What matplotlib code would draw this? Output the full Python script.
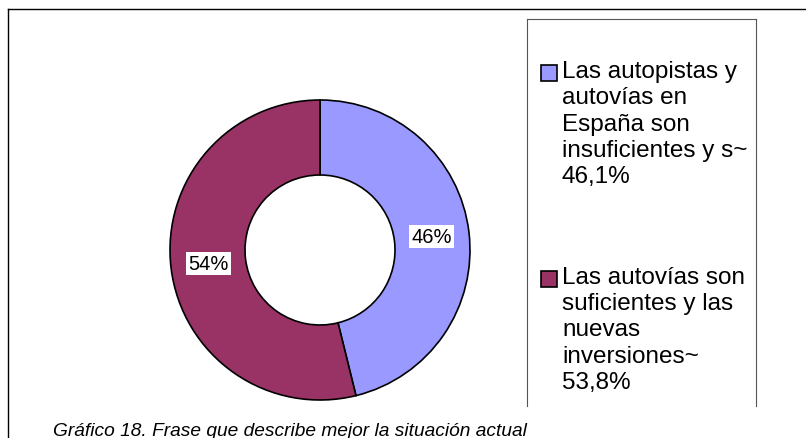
import matplotlib
matplotlib.use("Agg")
import matplotlib.pyplot as plt
from matplotlib.patches import Rectangle
from matplotlib.lines import Line2D

plt.rcParams['font.family'] = ['Liberation Sans', 'DejaVu Sans']

# datos
labels = ["Las autopistas y\nautovías en\nEspaña son\ninsuficientes y s~",
          "Las autovías son\nsuficientes y las\nnuevas\ninversiones~"]
values = [46.1, 53.8]
colors = ["#9999FF", "#993366"]
caption = "Gráfico 18. Frase que describe mejor la situación actual"

W, H = 806, 439
fig = plt.figure(figsize=(W / 100, H / 100), dpi=100)

def px(x, y):
    # pixel (desde arriba-izquierda) -> fracción de figura
    return x / W, 1 - y / H

# marco exterior (solo arriba e izquierda visibles)
fig.add_artist(Line2D([8 / W, 1], [1 - 10 / H] * 2, color="black", lw=1))
fig.add_artist(Line2D([8 / W] * 2, [0, 1 - 10 / H], color="black", lw=1))

# donut
cx, cy, r = 320, 251, 150
pad = 1.05
ax = fig.add_axes([(cx - r * pad) / W, 1 - (cy + r * pad) / H,
                   2 * r * pad / W, 2 * r * pad / H])
wedges, _, autotexts = ax.pie(values, colors=colors, startangle=90, counterclock=False,
                              radius=1, autopct='%.0f%%', pctdistance=0.75,
                              wedgeprops=dict(width=0.5, edgecolor="black", linewidth=1.2),
                              textprops=dict(fontsize=14.5, color="black"))
for t in autotexts:
    t.set_bbox(dict(facecolor="white", edgecolor="none", pad=1.5))
ax.set_xlim(-pad, pad)
ax.set_ylim(-pad, pad)
ax.set_aspect("equal")
ax.axis("off")

# leyenda (caja sin borde inferior)
lx0, lx1, ly0, ly1 = 527, 756, 20, 407
fig.add_artist(Line2D([lx0 / W, lx1 / W], [1 - ly0 / H] * 2, color="#555555", lw=0.8))
fig.add_artist(Line2D([lx0 / W] * 2, [1 - ly0 / H, 1 - ly1 / H], color="#555555", lw=0.8))
fig.add_artist(Line2D([lx1 / W] * 2, [1 - ly0 / H, 1 - ly1 / H], color="#555555", lw=0.8))

entry_tops = [61, 267]
for lab, val, col, top in zip(labels, values, colors, entry_tops):
    x, y = px(541, top + 5)
    fig.add_artist(Rectangle((x, y - 16 / H), 16 / W, 16 / H, facecolor=col,
                             edgecolor="black", lw=1.2, transform=fig.transFigure))
    txt = lab + "\n" + f"{val:.1f}%".replace(".", ",")
    fx, fy = px(562, top)
    fig.text(fx, fy, txt, fontsize=17.5, va="top", ha="left", linespacing=1.25)

# título inferior
tx, ty = px(290, 436)
fig.text(tx, ty, caption, fontsize=13.8, style="italic", ha="center", va="baseline")

fig.savefig("out.png", dpi=100)
